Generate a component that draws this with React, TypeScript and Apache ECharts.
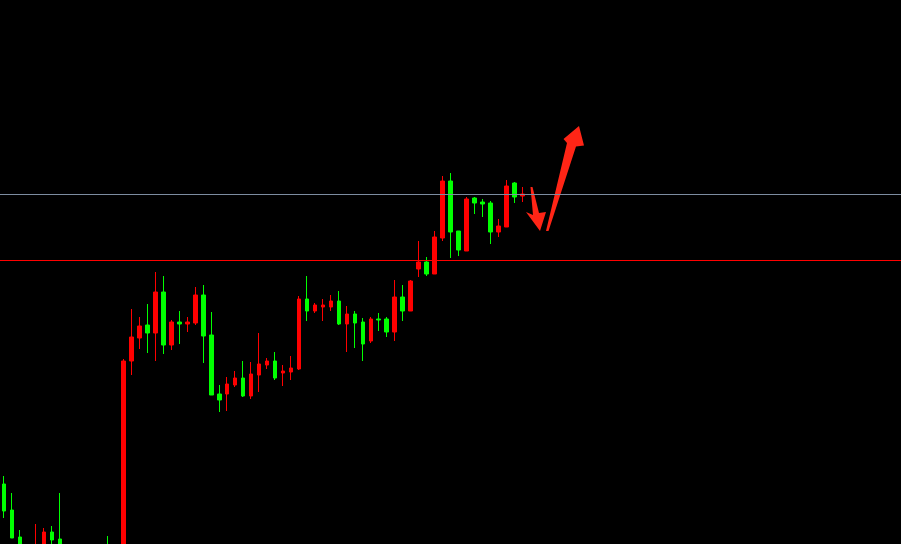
import React, { useEffect, useRef } from "react";
import * as echarts from "echarts";

// Candles: [open, close, lowest, highest]
const candles: (number[] | string)[] = [
  [60, 33, 26, 68],
  [34, 6, 6, 51],
  [7, -20, -30, 14],
  [-20, -35, -45, -8],
  [-40, -5, -45, 20],
  [-20, 12, -25, 16],
  [12, 4, -10, 18],
  [5, -15, -20, 51],
  [-15, -30, -35, -8],
  [-30, -20, -38, -12],
  [-20, -28, -36, -14],
  [-28, -18, -32, -10],
  [-18, -24, -30, -6],
  [-5, -15, -20, 8],
  [-15, -10, -22, -4],
  [-10, 183, -15, 185],
  [183, 207, 169, 235],
  [206, 218, 195, 227],
  [219, 211, 191, 240],
  [211, 252, 183, 272],
  [252, 199, 190, 268],
  [199, 222, 194, 224],
  [222, 220, 200, 233],
  [220, 222, 212, 227],
  [221, 249, 219, 257],
  [249, 208, 181, 259],
  [209, 149, 149, 232],
  [150, 144, 132, 159],
  [150, 160, 133, 167],
  [159, 166, 157, 173],
  [166, 148, 147, 183],
  [148, 170, 145, 182],
  [169, 180, 152, 211],
  [179, 183, 175, 186],
  [183, 166, 164, 192],
  [171, 173, 158, 179],
  [172, 176, 164, 188],
  [175, 245, 174, 248],
  [245, 233, 223, 268],
  [233, 239, 231, 241],
  [237, 239, 223, 245],
  [237, 243, 233, 249],
  [243, 220, 219, 253],
  [220, 230, 192, 238],
  [230, 221, 196, 233],
  [222, 200, 183, 226],
  [203, 225, 201, 227],
  [225, 224, 213, 231],
  [225, 212, 207, 227],
  [212, 247, 203, 264],
  [247, 233, 223, 259],
  [233, 263, 233, 264],
  [275, 282, 267, 303],
  [282, 270, 268, 287],
  [270, 307, 270, 313],
  [306, 363, 303, 368],
  [363, 312, 286, 371],
  [313, 294, 288, 313],
  [293, 345, 293, 347],
  [346, 341, 330, 347],
  [342, 340, 327, 345],
  [341, 312, 300, 343],
  [312, 318, 307, 325],
  [317, 358, 317, 364],
  [361, 347, 341, 362],
  [348, 350, 342, 357],
];

const TOTAL_SLOTS = 113;
const categories: string[] = Array.from({ length: TOTAL_SLOTS }, (_, i) => String(i + 1));
const seriesData = categories.map((_, i) => (i < candles.length ? candles[i] : "-"));

const resistanceLevel = 349.5;
const supportLevel = 283.5;

const downArrow = [
  [530.5, 187], [532.5, 187], [539, 213], [546, 212], [540, 231], [526, 212], [533, 215],
];
const upArrow = [
  [546, 231], [567, 143], [563.5, 139], [579, 126], [584, 145.5], [576, 146.5], [548.5, 231],
];

export default function App() {
  const ref = useRef<HTMLDivElement>(null);
  useEffect(() => {
    if (!ref.current) return;
    const chart = echarts.init(ref.current, null, { renderer: "svg" });
    chart.setOption({
      animation: false,
      backgroundColor: "#000000",
      grid: { left: -0.5, top: 0, width: 904, height: 544 },
      xAxis: {
        type: "category",
        data: categories,
        boundaryGap: true,
        show: false,
      },
      yAxis: {
        type: "value",
        min: 0,
        max: 544,
        show: false,
        splitLine: { show: false },
      },
      series: [
        {
          type: "candlestick",
          data: seriesData,
          barWidth: 4,
          clip: true,
          itemStyle: {
            color: "#ff0000",
            color0: "#00ff00",
            borderColor: "#ff0000",
            borderColor0: "#00ff00",
            borderWidth: 1,
          },
          markLine: {
            silent: true,
            symbol: "none",
            label: { show: false },
            data: [
              { yAxis: resistanceLevel, lineStyle: { color: "#7d8ca0", width: 1, type: "solid" } },
              { yAxis: supportLevel, lineStyle: { color: "#ff0000", width: 1, type: "solid" } },
            ],
          },
        },
      ],
      graphic: [
        { type: "polygon", shape: { points: downArrow }, style: { fill: "#ff2516" } },
        { type: "polygon", shape: { points: upArrow }, style: { fill: "#ff2516" } },
      ],
    });
    return () => chart.dispose();
  }, []);
  return (
    <div
      ref={ref}
      style={{ position: "fixed", left: 0, top: 0, width: 901, height: 544, background: "#000" }}
    />
  );
}
